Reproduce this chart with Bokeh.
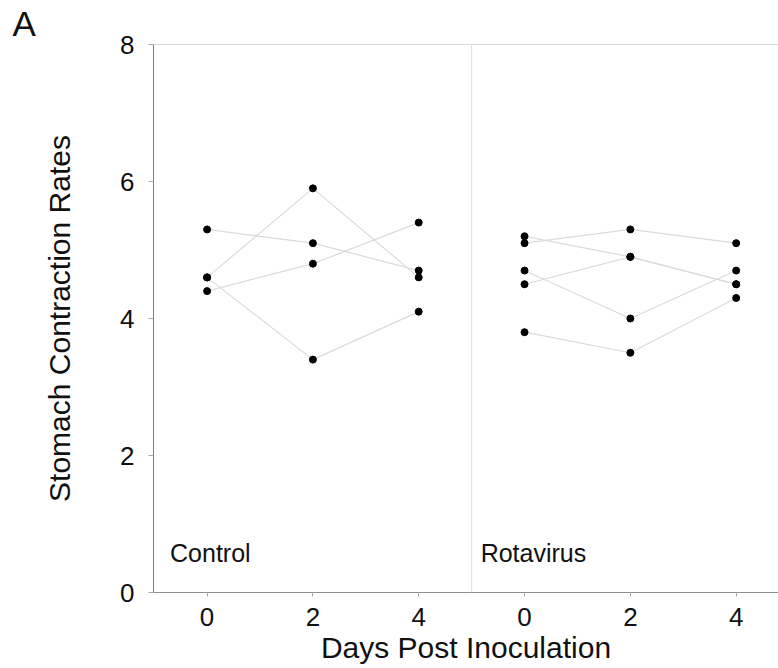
from bokeh.plotting import figure
from bokeh.models import FixedTicker, Span, Label, Range1d
from bokeh.embed import file_html
from bokeh.resources import INLINE

# ---- data ----
days = [0, 2, 4]
control_rates = [
    [5.3, 5.1, 4.7],
    [4.6, 5.9, 4.6],
    [4.4, 4.8, 5.4],
    [4.6, 3.4, 4.1],
]
rotavirus_rates = [
    [5.2, 4.9, 4.5],
    [5.1, 5.3, 5.1],
    [4.7, 4.0, 4.7],
    [4.5, 4.9, 4.5],
    [3.8, 3.5, 4.3],
]
groups = ["Control", "Rotavirus"]
y_ticks = [0, 2, 4, 6, 8]
x_tick_labels = ["0", "2", "4", "0", "2", "4"]
panel_letter = "A"
x_title = "Days Post Inoculation"
y_title = "Stomach Contraction Rates"

FONT = "Liberation Sans"
PANEL = 6  # each panel spans days -1 .. 5

p = figure(
    frame_width=625, frame_height=548,
    min_border_left=153, min_border_right=0, min_border_top=44, min_border_bottom=74,
    x_range=Range1d(-1.013, 10.8), y_range=Range1d(0, 8),
    output_backend="svg", toolbar_location=None,
)
p.outline_line_color = None
p.xgrid.visible = False
p.ygrid.visible = False
p.background_fill_color = "white"
p.border_fill_color = "white"

# panel letter as a left-shifted title
p.title.text = panel_letter
p.title.align = "left"
p.title.offset = -141
p.title.standoff = 0
p.title.vertical_align = "top"
p.title.text_font = FONT
p.title.text_font_size = "35px"
p.title.text_font_style = "normal"
p.title.text_color = "#111111"

# separators / top border
p.add_layout(Span(location=8, dimension="width", line_color="#b4b4b4", line_width=1.2))
p.add_layout(Span(location=PANEL - 1, dimension="height", line_color="#e2e2e2", line_width=1.2))

for gi, series in enumerate([control_rates, rotavirus_rates]):
    off = gi * PANEL
    xs = [[d + off for d in days] for _ in series]
    ys = [list(s) for s in series]
    p.multi_line(xs, ys, line_color="#dadada", line_width=1.2)
    px = [d + off for s in series for d in days]
    py = [v for s in series for v in s]
    p.scatter(px, py, size=7, color="black")

# panel labels
label_x = [-0.70, PANEL - 1 + 0.17]
for gi, name in enumerate(groups):
    p.add_layout(Label(x=label_x[gi], y=0.57, text=name, text_font=FONT,
                       text_font_size="25px", text_color="#111111",
                       text_baseline="alphabetic"))

# axes
xt = [d + gi * PANEL for gi in range(len(groups)) for d in days]
p.xaxis.ticker = FixedTicker(ticks=xt)
p.xaxis.major_label_overrides = {t: lab for t, lab in zip(xt, x_tick_labels)}
p.yaxis.ticker = FixedTicker(ticks=y_ticks)
for ax in (p.xaxis, p.yaxis):
    ax.minor_tick_line_color = None
    ax.major_tick_in = 0
    ax.major_label_text_font = FONT
    ax.major_label_text_font_size = "26px"
    ax.major_label_text_color = "#111111"
    ax.axis_label_text_font = FONT
    ax.axis_label_text_font_size = "30px"
    ax.axis_label_text_font_style = "normal"
    ax.axis_label_text_color = "#111111"
p.xaxis.axis_line_color = "#8f8f8f"
p.xaxis.major_tick_line_color = "#a8a8a8"
p.xaxis.major_tick_out = 4
p.xaxis.major_label_standoff = 11
p.xaxis.axis_label = x_title
p.xaxis.axis_label_standoff = 2
p.yaxis.axis_line_color = "#7f7f7f"
p.yaxis.major_tick_line_color = "#a8a8a8"
p.yaxis.major_tick_out = 5
p.yaxis.major_label_standoff = 14
p.yaxis.axis_label = y_title
p.yaxis.axis_label_standoff = 41

open("out.html", "w").write(file_html(p, INLINE))
